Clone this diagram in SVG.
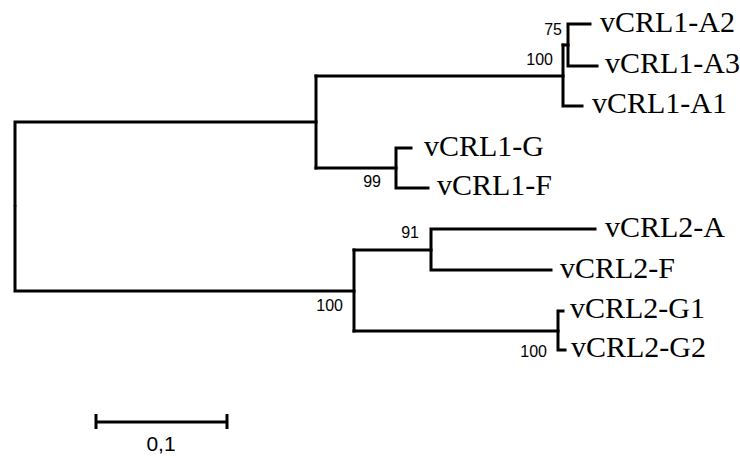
<svg xmlns="http://www.w3.org/2000/svg" width="740" height="456" viewBox="0 0 740 456">
  <rect width="740" height="456" fill="#fff"/>

  <!-- branches of the tree -->
  <g id="connectors" fill="none" stroke="#000" stroke-width="3" stroke-linecap="square">
    <!-- root -->
    <path d="M15,205 V122 H316"/>
    <path d="M15,207 V291 H354"/>
    <!-- vCRL1 clade -->
    <path d="M316,76 V168"/>
    <path d="M316,76 H563"/>
    <path d="M563,45 V106 H582"/>
    <path d="M563,45 H568"/>
    <path d="M590,24 H568 V66 H597"/>
    <path d="M316,168 H396"/>
    <path d="M411,148 H396 V188 H428"/>
    <!-- vCRL2 clade -->
    <path d="M354,250 V331"/>
    <path d="M354,250 H431"/>
    <path d="M595,229 H431 V270 H551"/>
    <path d="M354,331 H558"/>
    <path d="M563,311 H558 V350 H565"/>
  </g>

  <!-- leaves -->
  <g id="vCRL1-A2"><text x="600" y="32" font-family="Liberation Serif" font-size="30">vCRL1-A2</text></g>
  <g id="vCRL1-A3"><text x="605" y="73" font-family="Liberation Serif" font-size="30">vCRL1-A3</text></g>
  <g id="vCRL1-A1"><text x="592" y="113" font-family="Liberation Serif" font-size="30">vCRL1-A1</text></g>
  <g id="vCRL1-G"><text x="424" y="156" font-family="Liberation Serif" font-size="30">vCRL1-G</text></g>
  <g id="vCRL1-F"><text x="437" y="195" font-family="Liberation Serif" font-size="30">vCRL1-F</text></g>
  <g id="vCRL2-A"><text x="605" y="237" font-family="Liberation Serif" font-size="30">vCRL2-A</text></g>
  <g id="vCRL2-F"><text x="560" y="278" font-family="Liberation Serif" font-size="30">vCRL2-F</text></g>
  <g id="vCRL2-G1"><text x="570" y="318" font-family="Liberation Serif" font-size="30">vCRL2-G1</text></g>
  <g id="vCRL2-G2"><text x="571" y="357" font-family="Liberation Serif" font-size="30">vCRL2-G2</text></g>

  <!-- bootstrap support -->
  <g id="bootstrap" font-family="Liberation Sans" font-size="16" text-anchor="end">
    <text x="562" y="35">75</text>
    <text x="553" y="65">100</text>
    <text x="381" y="187">99</text>
    <text x="419" y="238">91</text>
    <text x="343" y="311">100</text>
    <text x="547" y="357">100</text>
  </g>

  <!-- scale bar -->
  <g id="scale-bar">
    <path d="M96,422 H227 M96,414 V429 M227,414 V429" fill="none" stroke="#000" stroke-width="3"/>
    <text x="161" y="451" font-family="Liberation Sans" font-size="21" text-anchor="middle">0,1</text>
  </g>
</svg>
